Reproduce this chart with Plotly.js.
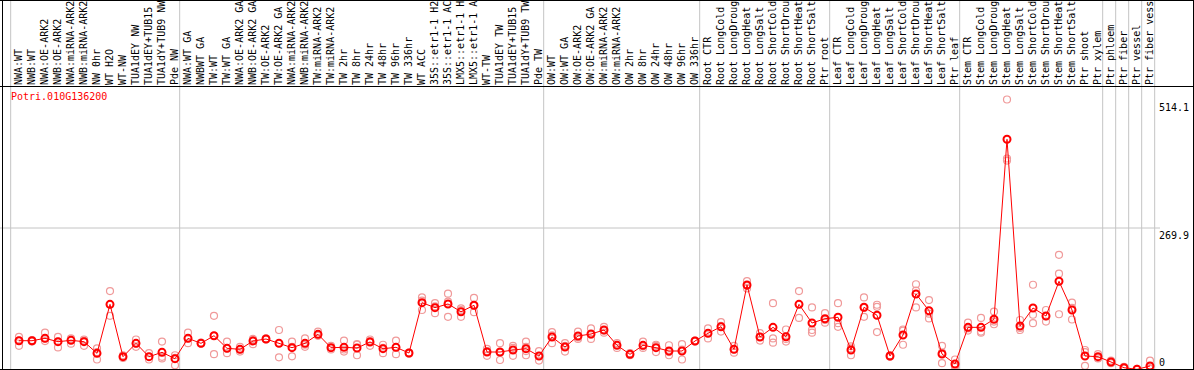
<!DOCTYPE html>
<html>
<head>
<meta charset="utf-8">
<script src="https://cdn.plot.ly/plotly-3.0.1.min.js"></script>
<style>
  html, body { margin: 0; padding: 0; background: #fff; }
  #chart { width: 1194px; height: 370px; }
</style>
</head>
<body>
<div id="chart"></div>
<script>
// ---------- DATA ----------
const geneName = "Potri.010G136200";

const categories = [
  "NWA:WT", "NWB:WT", "NWA:OE-ARK2", "NWB:OE-ARK2", "NWA:miRNA-ARK2", "NWB:miRNA-ARK2",
  "NW 0hr", "WT H2O", "WT-NW", "TUA1dEY NW", "TUA1dEY+TUB15 NW", "TUA1dY+TUB9 NW", "Pde NW",
  "NWA:WT GA", "NWBWT GA", "TW:WT", "TW:WT GA", "NWA:OE-ARK2 GA", "NWB:OE-ARK2 GA",
  "TW:OE-ARK2", "TW:OE-ARK2 GA", "NWA:miRNA-ARK2 GA", "NWB:miRNA-ARK2 GA", "TW:miRNA-ARK2",
  "TW:miRNA-ARK2 GA", "TW 2hr", "TW 8hr", "TW 24hr", "TW 48hr", "TW 96hr", "TW 336hr",
  "WT ACC", "35S::etr1-1 H2O", "35S::etr1-1 ACC", "LMX5::etr1-1 H2O", "LMX5::etr1-1 ACC",
  "WT-TW", "TUA1dEY TW", "TUA1dEY+TUB15 TW", "TUA1dY+TUB9 TW", "Pde TW",
  "OW:WT", "OW:WT GA", "OW:OE-ARK2", "OW:OE-ARK2 GA", "OW:miRNA-ARK2", "OW:miRNA-ARK2 GA",
  "OW 2hr", "OW 8hr", "OW 24hr", "OW 48hr", "OW 96hr", "OW 336hr",
  "Root CTR", "Root LongCold", "Root LongDrought", "Root LongHeat", "Root LongSalt",
  "Root ShortCold", "Root ShortDrought", "Root ShortHeat", "Root ShortSalt", "Ptr root",
  "Leaf CTR", "Leaf LongCold", "Leaf LongDrought", "Leaf LongHeat", "Leaf LongSalt",
  "Leaf ShortCold", "Leaf ShortDrought", "Leaf ShortHeat", "Leaf ShortSalt", "Ptr leaf",
  "Stem CTR", "Stem LongCold", "Stem LongDrought", "Stem LongHeat", "Stem LongSalt",
  "Stem ShortCold", "Stem ShortDrought", "Stem ShortHeat", "Stem ShortSalt", "Ptr shoot",
  "Ptr xylem", "Ptr phloem", "Ptr fiber", "Ptr vessel", "Ptr fiber vessel"
];

// index of first category of each group (group separators)
const groupStarts = [0, 13, 41, 53, 63, 73, 84, 85, 86, 87, 88];

// mean expression per category
const meanValues = [
  55.7, 55.7, 60.2, 53.8, 56.4, 53.8, 31.7, 124.8, 25.3, 50.7,
  25.3, 33.6, 21.5, 60.2, 50.7, 65.2, 41.2, 39.3, 55.1, 58.9,
  50.7, 42.4, 50.7, 67.8, 42.4, 43.1, 41.8, 53.2, 40.5, 43.1,
  32.3, 128, 118.5, 125.5, 110.8, 123, 34.2, 34.2, 38, 40.5,
  26.6, 62.7, 43.7, 64.6, 68.4, 76, 46.9, 29.8, 46.9, 42.4,
  36.1, 36.1, 55.1, 69.7, 82.3, 39.3, 161.6, 62.7, 81.1, 63.3,
  124.8, 89.3, 97.5, 100.2, 38, 119.2, 104, 26.6, 66.5, 144.5,
  112.7, 30.4, 11.4, 81.1, 81.1, 96.4, 438.5, 83.6, 117.8, 102.6,
  168.6, 114, 26.6, 25.3, 15.2, 4.4, 1.3, 7.6
];

// individual replicates
const rep1 = [
  63, 57, 71, 63, 60, 58, 41, 150, 28, 58,
  32, 54, 28, 71, 52, 103, 54, 44, 59, 60,
  76, 54, 60, 73, 46, 56, 49, 58, 48, 56,
  33, 138, 127, 145, 117, 137, 40, 51, 46, 54,
  36, 72, 51, 73, 79, 82, 51, 32, 54, 48,
  47, 49, 56, 79, 91, 46, 169, 70, 127, 77,
  150, 119, 108, 127, 45, 138, 124, 28, 77, 163,
  133, 46, 20, 90, 99, 111, 514.1, 95, 162, 114,
  219, 128, 38, 30, 18, 6, 2, 18
];
const rep2 = [
  56, 55, 60, 54, 58, 56, 34, 124, 25, 50,
  25, 34, 23, 60, 51, 65, 41, 39, 57, 59,
  51, 44, 48, 66, 42, 39, 48, 55, 42, 43,
  32, 132, 121, 130, 114, 122, 36, 33, 42, 44,
  27, 66, 46, 62, 67, 75, 48, 30, 45, 46,
  34, 39, 55, 70, 84, 39, 160, 63, 60, 59,
  125, 76, 95, 89, 41, 118, 120, 27, 75, 151,
  107, 33, 8, 79, 73, 92, 402, 80, 105, 102,
  183, 118, 34, 23, 15, 4, 1, 3
];
const rep3 = [
  46, 54, 55, 43, 50, 46, 20, 103, 23, 44,
  20, 25, 9, 51, 50, 30, 32, 35, 49, 58,
  24, 26, 44, 65, 39, 35, 28, 46, 32, 30,
  31, 114, 108, 101, 101, 110, 27, 19, 27, 36,
  18, 51, 35, 59, 59, 71, 42, 28, 42, 34,
  28, 20, 54, 60, 73, 33, 155, 56, 52, 54,
  99, 71, 90, 82, 28, 101, 72, 25, 48, 119,
  98, 13, 6, 75, 71, 87, 398, 76, 89, 92,
  106, 96, 8, 22, 13, 3, 1, 2
];
const rep4 = categories.map(() => null);
rep4[11] = 22;
rep4[39] = 28;

const yTop = 539.8;          // axis maximum
const yMid = 269.9;          // mid reference line
const yMax = 514.1;          // labelled maximum

// ---------- PLOT ----------
const idx = categories.map((_, i) => i);

const W = 1194, H = 370;
const mL = 3, mR = 38, mT = 86, mB = 0;
const pw = W - mL - mR, ph = H - mT - mB;
const px = p => (p - mL) / pw;        // pixel -> paper x
const py = p => (H - mB - p) / ph;    // pixel -> paper y

const repStyle = {
  type: 'scatter', mode: 'markers', x: idx, hoverinfo: 'skip', showlegend: false,
  marker: { symbol: 'circle-open', size: 7, color: '#f09a9a', line: { width: 1.2, color: '#f09a9a' } }
};
const traces = [rep1, rep2, rep3, rep4].map(r => Object.assign({}, repStyle, { y: r }));
traces.push({
  type: 'scatter', mode: 'lines+markers', x: idx, y: meanValues, showlegend: false,
  line: { color: '#ff0000', width: 1 },
  marker: { symbol: 'circle-open', size: 7, color: '#ff0000', line: { width: 2, color: '#ff0000' } }
});
// invisible trace to activate y2 for the "0" label
traces.push({ type: 'scatter', mode: 'markers', x: [0], y: [0], yaxis: 'y2', showlegend: false,
  marker: { opacity: 0 }, hoverinfo: 'skip' });

const shapes = [];
// group separator gridlines (vertical, spanning header)
groupStarts.forEach(g => {
  shapes.push({ type: 'line', xref: 'x', yref: 'paper', x0: g - 0.64, x1: g - 0.64,
    y0: 0, y1: 1.4, line: { color: '#c4c4c4', width: 1 }, layer: 'below' });
});
// mid horizontal line
shapes.push({ type: 'line', xref: 'paper', yref: 'y', x0: px(0), x1: px(1160), y0: yMid, y1: yMid,
  line: { color: '#c4c4c4', width: 1 }, layer: 'below' });
// frame lines
const blk = { color: '#000', width: 1 };
shapes.push({ type: 'line', xref: 'paper', yref: 'paper', x0: px(2.5), x1: px(2.5), y0: py(0), y1: py(H), line: blk });
shapes.push({ type: 'line', xref: 'paper', yref: 'paper', x0: px(1193.5), x1: px(1193.5), y0: py(0), y1: py(H), line: blk });
shapes.push({ type: 'line', xref: 'paper', yref: 'paper', x0: px(0), x1: px(W), y0: py(0.5), y1: py(0.5), line: blk });
shapes.push({ type: 'line', xref: 'paper', yref: 'paper', x0: px(0), x1: px(W), y0: py(369.5), y1: py(369.5), line: blk });
shapes.push({ type: 'line', xref: 'paper', yref: 'paper', x0: px(0), x1: px(W), y0: py(86.5), y1: py(86.5), line: blk });

const mono = 'DejaVu Sans Mono, Liberation Mono, monospace';

const layout = {
  width: W, height: H,
  margin: { l: mL, r: mR, t: mT, b: mB, pad: 0 },
  paper_bgcolor: '#fff', plot_bgcolor: '#fff',
  showlegend: false,
  font: { family: mono, size: 10, color: '#000' },
  xaxis: {
    range: [(mL - 19) / 13, (W - mR - 19) / 13],
    side: 'top', tickmode: 'array', tickvals: idx, ticktext: categories,
    tickangle: -90, ticks: '', showgrid: false, zeroline: false, showline: false,
    tickfont: { family: mono, size: 10, color: '#000' }, fixedrange: true
  },
  yaxis: {
    range: [0, yTop], side: 'right', tickmode: 'array', tickvals: [yMid, yMax],
    ticktext: [String(yMid), String(yMax)], ticklabelposition: 'outside bottom',
    ticks: 'outside', ticklen: 6, tickcolor: 'rgba(0,0,0,0)',
    showgrid: false, zeroline: false, showline: false,
    tickfont: { family: mono, size: 10, color: '#000' }
  },
  yaxis2: {
    overlaying: 'y', range: [0, yTop], side: 'right', tickmode: 'array', tickvals: [0],
    ticktext: ['0'], ticklabelposition: 'outside top',
    ticks: 'outside', ticklen: 6, tickcolor: 'rgba(0,0,0,0)',
    showgrid: false, zeroline: false, showline: false,
    tickfont: { family: mono, size: 10, color: '#000' }
  },
  shapes: shapes,
  annotations: [{
    text: geneName, xref: 'paper', yref: 'paper', x: px(9), y: py(97),
    xanchor: 'left', yanchor: 'middle', showarrow: false,
    font: { family: mono, size: 10, color: '#ff0000' }
  }]
};

Plotly.newPlot('chart', traces, layout, { staticPlot: true, displayModeBar: false });
</script>
</body>
</html>
